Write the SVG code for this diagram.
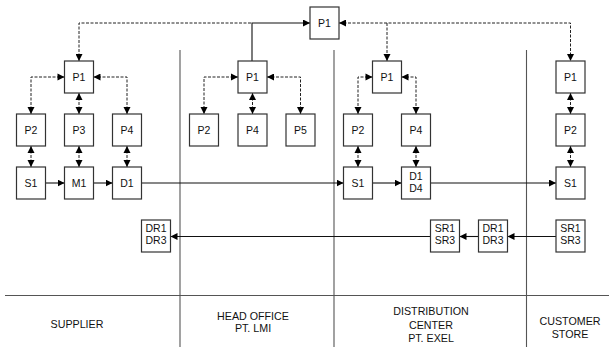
<svg xmlns="http://www.w3.org/2000/svg" width="609" height="347" viewBox="0 0 609 347">
<style>
.box{fill:#fff;stroke:#333;stroke-width:1.2}
.t{font-family:"Liberation Sans",Arial,sans-serif;font-size:10.5px;fill:#111;text-anchor:middle}
.lbl{font-family:"Liberation Sans",Arial,sans-serif;font-size:10.7px;fill:#111;text-anchor:middle}
.dash{fill:none;stroke:#222;stroke-width:1;stroke-dasharray:3,1.5}
.solid{fill:none;stroke:#111;stroke-width:1.1}
.div{stroke:#555;stroke-width:1.1}
</style>
<defs>
<marker id="ae" markerUnits="userSpaceOnUse" markerWidth="8" markerHeight="8" viewBox="0 0 8 8" refX="7" refY="3.5" orient="auto">
<path d="M0,0 L7,3.5 L0,7 z" fill="#000"/>
</marker>
<marker id="as" markerUnits="userSpaceOnUse" markerWidth="8" markerHeight="8" viewBox="0 0 8 8" refX="0" refY="3.5" orient="auto">
<path d="M7,0 L0,3.5 L7,7 z" fill="#000"/>
</marker>
</defs>
<rect width="609" height="347" fill="#fff"/>
<g id="lanes">
<line class="div" x1="5" y1="295.5" x2="609" y2="295.5"/>
<line class="div" x1="180" y1="50" x2="180" y2="347"/>
<line class="div" x1="334" y1="50" x2="334" y2="347"/>
<line class="div" x1="526.5" y1="50" x2="526.5" y2="347"/>
<text class="lbl" x="77" y="328">SUPPLIER</text>
<text class="lbl" x="253" y="319.5">HEAD OFFICE</text>
<text class="lbl" x="253" y="332">PT. LMI</text>
<text class="lbl" x="431" y="315">DISTRIBUTION</text>
<text class="lbl" x="431" y="328.5">CENTER</text>
<text class="lbl" x="431" y="342">PT. EXEL</text>
<text class="lbl" x="570" y="325">CUSTOMER</text>
<text class="lbl" x="570" y="338">STORE</text>
</g>
<g id="connectors">
<!-- top -->
<path class="dash" d="M79,61 V23 H252" marker-start="url(#as)"/>
<path class="solid" d="M252,61 V23 H310" marker-end="url(#ae)"/>
<path class="dash" d="M339,23 H570.5 V61" marker-start="url(#as)" marker-end="url(#ae)"/>
<path class="dash" d="M387,23 V61" marker-end="url(#ae)"/>
<!-- supplier -->
<path class="dash" d="M64.5,77 H31 V114" marker-start="url(#as)" marker-end="url(#ae)"/>
<path class="dash" d="M93.5,77 H127 V114" marker-start="url(#as)" marker-end="url(#ae)"/>
<path class="dash" d="M79,93 V114" marker-start="url(#as)" marker-end="url(#ae)"/>
<path class="dash" d="M31,146 V167" marker-start="url(#as)" marker-end="url(#ae)"/>
<path class="dash" d="M79,146 V167" marker-start="url(#as)" marker-end="url(#ae)"/>
<path class="dash" d="M127,146 V167" marker-start="url(#as)" marker-end="url(#ae)"/>
<path class="solid" d="M45.5,183 H64.5" marker-end="url(#ae)"/>
<path class="solid" d="M93.5,183 H112.5" marker-end="url(#ae)"/>
<path class="solid" d="M141.5,183 H343.5" marker-end="url(#ae)"/>
<!-- head office -->
<path class="dash" d="M238,77 H204 V114" marker-start="url(#as)" marker-end="url(#ae)"/>
<path class="dash" d="M267,77 H300.5 V114" marker-start="url(#as)" marker-end="url(#ae)"/>
<path class="dash" d="M252.5,93 V114" marker-start="url(#as)" marker-end="url(#ae)"/>
<!-- distribution -->
<path class="dash" d="M372.5,77 H358 V114" marker-start="url(#as)" marker-end="url(#ae)"/>
<path class="dash" d="M401.5,77 H416 V114" marker-start="url(#as)" marker-end="url(#ae)"/>
<path class="dash" d="M358,146 V167" marker-start="url(#as)" marker-end="url(#ae)"/>
<path class="dash" d="M416,146 V167" marker-start="url(#as)" marker-end="url(#ae)"/>
<path class="solid" d="M372.5,183 H401.5" marker-end="url(#ae)"/>
<path class="solid" d="M430.5,183 H556" marker-end="url(#ae)"/>
<!-- store -->
<path class="dash" d="M570.5,93 V114" marker-start="url(#as)" marker-end="url(#ae)"/>
<path class="dash" d="M570.5,146 V167" marker-start="url(#as)" marker-end="url(#ae)"/>
<!-- returns -->
<path class="solid" d="M556,236.5 H507.5" marker-end="url(#ae)"/>
<path class="solid" d="M478.5,236.5 H459.5" marker-end="url(#ae)"/>
<path class="solid" d="M430.5,236.5 H170.5" marker-end="url(#ae)"/>
</g>
<g id="top-p1"><rect class="box" x="310" y="7" width="29" height="32"/><text class="t" x="324.5" y="27">P1</text></g>
<g id="sup-p1"><rect class="box" x="64.5" y="61" width="29" height="32"/><text class="t" x="79" y="81">P1</text></g>
<g id="sup-p2"><rect class="box" x="16.5" y="114" width="29" height="32"/><text class="t" x="31" y="134">P2</text></g>
<g id="sup-p3"><rect class="box" x="64.5" y="114" width="29" height="32"/><text class="t" x="79" y="134">P3</text></g>
<g id="sup-p4"><rect class="box" x="112.5" y="114" width="29" height="32"/><text class="t" x="127" y="134">P4</text></g>
<g id="sup-s1"><rect class="box" x="16.5" y="167" width="29" height="32"/><text class="t" x="31" y="187">S1</text></g>
<g id="sup-m1"><rect class="box" x="64.5" y="167" width="29" height="32"/><text class="t" x="79" y="187">M1</text></g>
<g id="sup-d1"><rect class="box" x="112.5" y="167" width="29" height="32"/><text class="t" x="127" y="187">D1</text></g>
<g id="sup-dr"><rect class="box" x="141.5" y="220" width="29" height="32"/><text class="t" x="156" y="232">DR1</text><text class="t" x="156" y="244">DR3</text></g>
<g id="ho-p1"><rect class="box" x="238" y="61" width="29" height="32"/><text class="t" x="252.5" y="81">P1</text></g>
<g id="ho-p2"><rect class="box" x="189.5" y="114" width="29" height="32"/><text class="t" x="204" y="134">P2</text></g>
<g id="ho-p4"><rect class="box" x="238" y="114" width="29" height="32"/><text class="t" x="252.5" y="134">P4</text></g>
<g id="ho-p5"><rect class="box" x="286" y="114" width="29" height="32"/><text class="t" x="300.5" y="134">P5</text></g>
<g id="dc-p1"><rect class="box" x="372.5" y="61" width="29" height="32"/><text class="t" x="387" y="81">P1</text></g>
<g id="dc-p2"><rect class="box" x="343.5" y="114" width="29" height="32"/><text class="t" x="358" y="134">P2</text></g>
<g id="dc-p4"><rect class="box" x="401.5" y="114" width="29" height="32"/><text class="t" x="416" y="134">P4</text></g>
<g id="dc-s1"><rect class="box" x="343.5" y="167" width="29" height="32"/><text class="t" x="358" y="187">S1</text></g>
<g id="dc-d1"><rect class="box" x="401.5" y="167" width="29" height="32"/><text class="t" x="416" y="180">D1</text><text class="t" x="416" y="192">D4</text></g>
<g id="dc-sr"><rect class="box" x="430.5" y="220" width="29" height="32"/><text class="t" x="445" y="232">SR1</text><text class="t" x="445" y="244">SR3</text></g>
<g id="dc-dr"><rect class="box" x="478.5" y="220" width="29" height="32"/><text class="t" x="493" y="232">DR1</text><text class="t" x="493" y="244">DR3</text></g>
<g id="cs-p1"><rect class="box" x="556" y="61" width="29" height="32"/><text class="t" x="570.5" y="81">P1</text></g>
<g id="cs-p2"><rect class="box" x="556" y="114" width="29" height="32"/><text class="t" x="570.5" y="134">P2</text></g>
<g id="cs-s1"><rect class="box" x="556" y="167" width="29" height="32"/><text class="t" x="570.5" y="187">S1</text></g>
<g id="cs-sr"><rect class="box" x="556" y="220" width="29" height="32"/><text class="t" x="570.5" y="232">SR1</text><text class="t" x="570.5" y="244">SR3</text></g>
</svg>
